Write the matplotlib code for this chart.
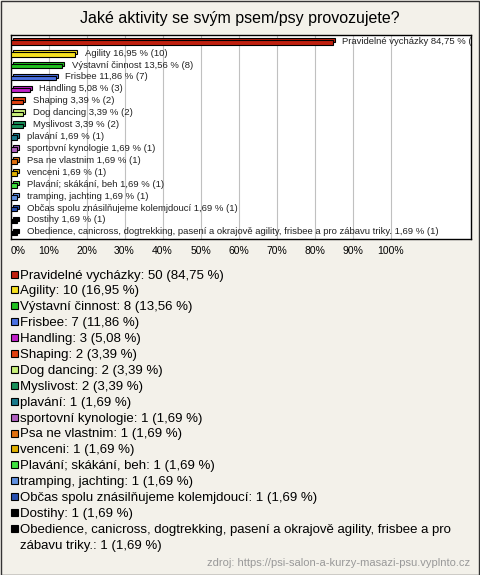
import matplotlib
matplotlib.use("Agg")
import matplotlib.pyplot as plt
from matplotlib.patches import Rectangle
import textwrap

plt.rcParams['font.family'] = ['Liberation Sans', 'DejaVu Sans']

title = "Jaké aktivity se svým psem/psy provozujete?"
categories = [
    "Pravidelné vycházky", "Agility", "Výstavní činnost", "Frisbee", "Handling",
    "Shaping", "Dog dancing", "Myslivost", "plavání", "sportovní kynologie",
    "Psa ne vlastnim", "venceni", "Plavání; skákání, beh", "tramping, jachting",
    "Občas spolu znásilňujeme kolemjdoucí", "Dostihy",
    "Obedience, canicross, dogtrekking, pasení a okrajově agility, frisbee a pro zábavu triky.",
]
counts = [50, 10, 8, 7, 3, 2, 2, 2, 1, 1, 1, 1, 1, 1, 1, 1, 1]
percents = [84.75, 16.95, 13.56, 11.86, 5.08, 3.39, 3.39, 3.39, 1.69, 1.69,
            1.69, 1.69, 1.69, 1.69, 1.69, 1.69, 1.69]
colors = ["#c0200f", "#f5e020", "#20c020", "#4a70e0", "#c020c8", "#e04010",
          "#c8f07a", "#18905a", "#1a7a8c", "#b060c0", "#e07010", "#e0b000",
          "#40e040", "#6090e0", "#2850b0", "#000000", "#000000"]
xticks = [0, 10, 20, 30, 40, 50, 60, 70, 80, 90, 100]
source = "zdroj: https://psi-salon-a-kurzy-masazi-psu.vyplnto.cz"

def fmt(v):
    return f"{v:.2f}".replace(".", ",")

W, H = 480, 575
fig = plt.figure(figsize=(W / 100, H / 100), dpi=100)
fig.patch.set_facecolor("#f3f1ea")

# outer border
fig.add_artist(Rectangle((0.5 / W, 0.5 / H), (W - 1.5) / W, (H - 1.5) / H,
                         transform=fig.transFigure, fill=False,
                         edgecolor="#333333", lw=1.0))

fig.text(0.5, 1 - 19 / H, title, ha="center", va="center", fontsize=11.5)

ax_l, ax_r, ax_t, ax_b = 10.5, 471, 35, 239
ax = fig.add_axes([ax_l / W, 1 - ax_b / H, (ax_r - ax_l) / W, (ax_b - ax_t) / H])
ax.set_facecolor("white")
xmax = (ax_r - ax_l) / 380 * 100
ax.set_xlim(0, xmax)
n = len(categories)
ax.set_ylim(n - 0.5, -0.62)
for s in ax.spines.values():
    s.set_color("black")
    s.set_linewidth(1.0)
ax.set_xticks(xticks)
labels = ax.set_xticklabels([f"{t}%" for t in xticks], fontsize=7.5)
labels[0].set_horizontalalignment("left")
ax.tick_params(axis="x", length=0, pad=5)
ax.set_yticks([])
ax.grid(axis="x", color="#c0c0c0", lw=0.8)
ax.set_axisbelow(True)

dx, dy = 0.55, 0.19
bh = 0.38
for i, (c, p, col) in enumerate(zip(categories, percents, colors)):
    # back (3D top) face
    ax.barh(i - dy, p, left=dx, height=bh, color=col, edgecolor="black", lw=0.8, zorder=2)
    ax.barh(i, p, height=bh, color=col, edgecolor="black", lw=0.8, zorder=3)
    t = ax.text(p + dx + 2.0, i - 0.1, f"{c} {fmt(p)} % ({counts[i]})",
                va="center", ha="left", fontsize=6.8, color="#222222", zorder=4)
    t.set_clip_on(True)

# legend
y0 = 274
step = 15.9
line = 0
for c, p, k, col in zip(categories, percents, counts, colors):
    y = y0 + line * step
    fig.add_artist(Rectangle((10.5 / W, 1 - (y + 3.5) / H), 7 / W, 7 / H,
                             transform=fig.transFigure, facecolor=col,
                             edgecolor="black", lw=0.8))
    parts = textwrap.wrap(f"{c}: {k} ({fmt(p)} %)", width=76)
    for j, part in enumerate(parts):
        fig.text(20 / W, 1 - (y + 4.5 + j * step) / H, part, ha="left",
                 va="baseline", fontsize=9.5)
    line += len(parts)

fig.text(470 / W, 1 - 563 / H, source, ha="right", va="center",
         fontsize=8, color="#999999")

fig.savefig("out.png", dpi=100, facecolor=fig.get_facecolor())
